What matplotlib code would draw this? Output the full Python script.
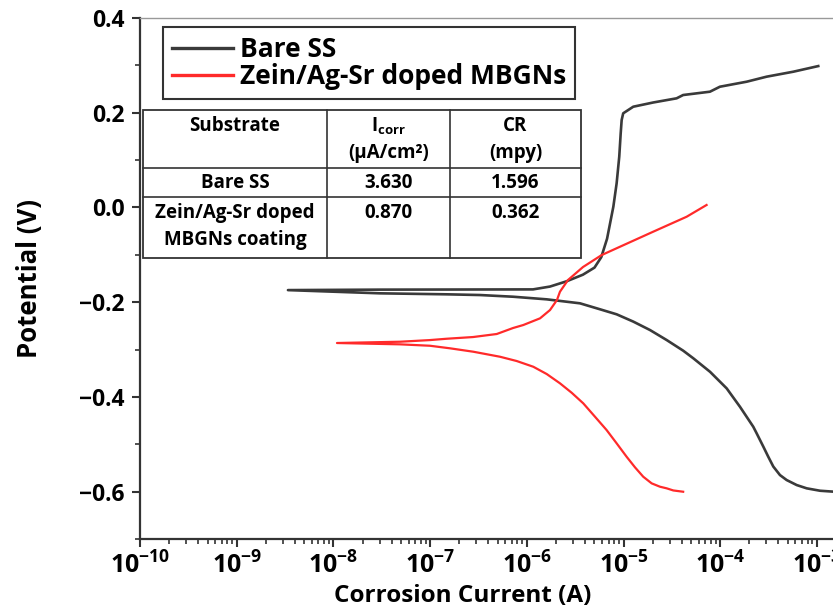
import numpy as np
import matplotlib
matplotlib.use("Agg")
import matplotlib.pyplot as plt
from matplotlib.lines import Line2D
from matplotlib.patches import Rectangle
from matplotlib.ticker import LogLocator, MultipleLocator

plt.rcParams['font.family'] = ['Open Sans', 'DejaVu Sans']
plt.rcParams['mathtext.default'] = 'regular'

# ---- data (log10 of current in A, potential in V) ----
bare_log_i = [-2.833, -2.968, -3.106, -3.209, -3.313, -3.382, -3.451, -3.503, -3.554,
              -3.623, -3.658, -3.795, -3.933, -4.105, -4.278, -4.382, -4.553, -4.726,
              -4.899, -5.071, -5.243, -5.450, -5.794, -6.140, -6.484, -6.828, -7.518,
              -8.470,
              -7.518, -6.828, -5.936, -5.760, -5.590, -5.420, -5.300, -5.230, -5.170,
              -5.105, -5.071, -5.044, -5.029, -5.019, -5.003, -4.899, -4.693, -4.451,
              -4.383, -4.106, -4.003, -3.726, -3.520, -3.244, -2.986]
bare_v = [-0.600, -0.5981, -0.593, -0.5861, -0.5755, -0.5650, -0.547, -0.5263, -0.505,
          -0.4769, -0.463, -0.421, -0.382, -0.347, -0.3185, -0.3025, -0.280, -0.2588,
          -0.241, -0.2256, -0.215, -0.2024, -0.194, -0.1885, -0.1849, -0.1834, -0.1813,
          -0.1745,
          -0.1735, -0.1733, -0.173, -0.167, -0.156, -0.142, -0.127, -0.105, -0.066,
          0.0016, 0.051, 0.1071, 0.1565, 0.1846, 0.1988, 0.2127, 0.2216, 0.2304,
          0.2374, 0.2444, 0.2549, 0.2655, 0.2761, 0.2866, 0.2985]

zein_log_i = [-4.383, -4.485, -4.554, -4.623, -4.709, -4.796, -4.881, -4.968, -5.071,
              -5.175, -5.295, -5.416, -5.536, -5.657, -5.794, -5.933, -6.105, -6.277,
              -6.553, -6.794, -7.001, -7.311, -7.963,
              -7.311, -7.001, -6.829, -6.556, -6.311, -6.143, -6.036, -5.863, -5.760,
              -5.688, -5.657, -5.574, -5.419, -5.225, -5.036, -4.693, -4.347, -4.141]
zein_v = [-0.6002, -0.5975, -0.593, -0.5896, -0.5825, -0.5685, -0.5487, -0.5263, -0.4980,
          -0.4699, -0.4418, -0.4136, -0.3912, -0.3713, -0.3517, -0.3363, -0.3242, -0.3152,
          -0.3046, -0.2974, -0.2920, -0.2890, -0.2862,
          -0.2835, -0.2800, -0.2772, -0.2736, -0.2672, -0.2546, -0.2482, -0.2341, -0.2166,
          -0.1954, -0.1779, -0.1532, -0.1258, -0.1004, -0.0829, -0.0512, -0.0196, 0.0052]

series_labels = ["Bare SS", "Zein/Ag-Sr doped MBGNs"]

table_header = ["Substrate", "I$_{corr}$\n(µA/cm²)", "CR\n(mpy)"]
table_rows = [["Bare SS", "3.630", "1.596"],
              ["Zein/Ag-Sr doped\nMBGNs coating", "0.870", "0.362"]]

W, H = 833, 610
fig = plt.figure(figsize=(W / 100, H / 100), dpi=100)
fig.patch.set_facecolor('white')

def fx(px):
    return px / W

def fy(py):
    return 1 - py / H

ax = fig.add_axes([fx(140), fy(539), fx(833) - fx(140), fy(18) - fy(539)])
ax.set_xscale('log')
ax.set_xlim(1e-10, 10 ** (-10 + 693 / 96.7))
ax.set_ylim(-0.7, 0.4)

ax.plot(10 ** np.array(bare_log_i), bare_v, color='#3a3a3a', lw=1.9,
        label=series_labels[0], solid_joinstyle='round')
ax.plot(10 ** np.array(zein_log_i), zein_v, color='#ff2a2a', lw=1.6,
        label=series_labels[1], solid_joinstyle='round')

ax.yaxis.set_minor_locator(MultipleLocator(0.1))
ax.xaxis.set_major_locator(LogLocator(base=10, numticks=20))
ax.xaxis.set_minor_locator(LogLocator(base=10, subs=np.arange(2, 10), numticks=20))
ax.set_yticks([0.4, 0.2, 0.0, -0.2, -0.4, -0.6])
ax.set_yticklabels(['0.4', '0.2', '0.0', '\u22120.2', '\u22120.4', '\u22120.6'])

ax.tick_params(axis='both', which='major', direction='out', length=6, width=1.5,
               color='#333333', pad=5)
ax.tick_params(axis='y', which='major', labelsize=16.5)
ax.tick_params(axis='x', which='major', labelsize=18, pad=4)
ax.tick_params(axis='both', which='minor', direction='out', length=3.5, width=1.2,
               color='#333333')
for lab in ax.get_xticklabels() + ax.get_yticklabels():
    lab.set_fontweight('bold')

for s in ['left', 'bottom']:
    ax.spines[s].set_color('#333333')
    ax.spines[s].set_linewidth(1.6)
ax.spines['top'].set_color('#999999')
ax.spines['top'].set_linewidth(1.0)
ax.spines['right'].set_visible(False)

ax.set_xlabel('Corrosion Current (A)', fontsize=17.5, fontweight='bold')
ax.xaxis.set_label_coords((463 - 140) / 693, -(596 - 539) / 521, transform=ax.transAxes)
ax.xaxis.label.set_va('center')
ax.set_ylabel('Potential (V)', fontsize=18.5, fontweight='bold')
ax.yaxis.set_label_coords(-(140 - 30) / 693, 0.5, transform=ax.transAxes)
ax.yaxis.label.set_va('center')

# legend
leg = ax.legend(loc='upper left', bbox_to_anchor=(fx(163), fy(27)),
                bbox_transform=fig.transFigure, borderaxespad=0,
                prop={'weight': 'bold', 'size': 19},
                handlelength=2.3, handletextpad=0.25, labelspacing=0.0,
                borderpad=0.35, fancybox=False, framealpha=1, edgecolor='#333333')
leg.get_frame().set_linewidth(1.5)
for h in leg.get_lines():
    h.set_linewidth(2.4)

# table
x_edges = [143, 327, 450, 581]
y_edges = [110, 168, 197, 258]
fig.patches.append(Rectangle((fx(x_edges[0]), fy(y_edges[-1])),
                             fx(x_edges[-1]) - fx(x_edges[0]), fy(y_edges[0]) - fy(y_edges[-1]),
                             transform=fig.transFigure, facecolor='white',
                             edgecolor='#333333', lw=1.3, zorder=5))
for xe in x_edges[1:-1]:
    fig.lines.append(Line2D([fx(xe), fx(xe)], [fy(y_edges[0]), fy(y_edges[-1])],
                            transform=fig.transFigure, color='#333333', lw=1.2, zorder=6))
for ye in y_edges[1:-1]:
    fig.lines.append(Line2D([fx(x_edges[0]), fx(x_edges[-1])], [fy(ye), fy(ye)],
                            transform=fig.transFigure, color='#333333', lw=1.2, zorder=6))

col_centers = [(x_edges[i] + x_edges[i + 1]) / 2 for i in range(3)]
line_y = {0: [126, 153], 1: [183], 2: [213, 240]}

def put_cell(row_idx, col_idx, txt):
    for k, part in enumerate(txt.split('\n')):
        fig.text(fx(col_centers[col_idx]), fy(line_y[row_idx][k]), part,
                 ha='center', va='center', fontsize=13.5, fontweight='bold', zorder=7)

for j, txt in enumerate(table_header):
    put_cell(0, j, txt)
for i, row in enumerate(table_rows):
    for j, txt in enumerate(row):
        put_cell(i + 1, j, txt)

fig.savefig('out.png', dpi=100)
